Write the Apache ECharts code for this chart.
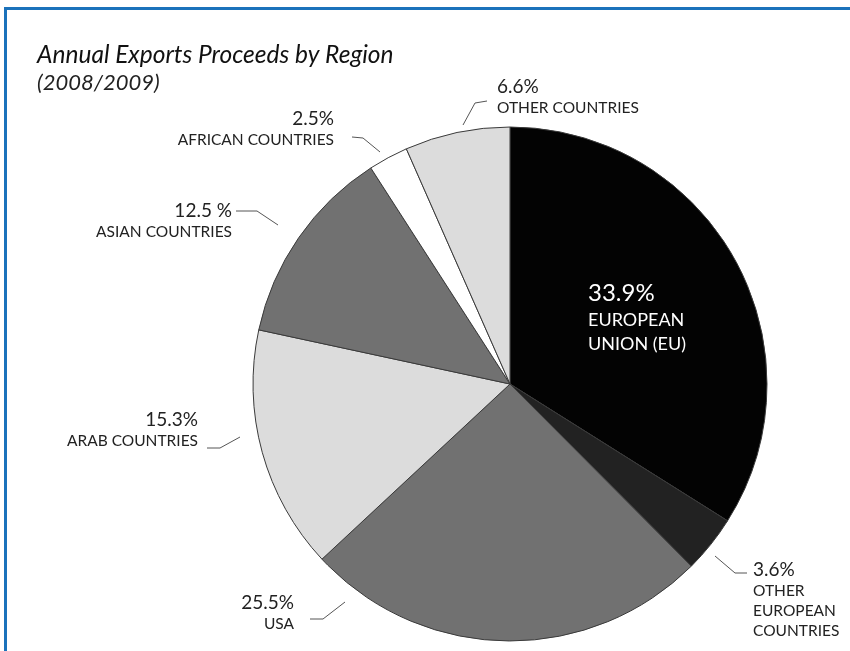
<!DOCTYPE html>
<html>
<head>
<meta charset="utf-8">
<script src="https://cdn.jsdelivr.net/npm/echarts@6/dist/echarts.min.js"></script>
<style>
  html, body { margin: 0; padding: 0; background: #fff; }
  #chart { position: absolute; left: 0; top: 0; width: 850px; height: 651px; }
  #frame { position: absolute; left: 4px; top: 7px; width: 850px; height: 651px;
           border-top: 3px solid #1b72bb; border-left: 3px solid #1b72bb; pointer-events: none; }
</style>
</head>
<body>
<div id="chart"></div>
<div id="frame"></div>
<script>
// ---- data ----
const categories = ['EUROPEAN UNION (EU)', 'OTHER EUROPEAN COUNTRIES', 'USA', 'ARAB COUNTRIES',
                    'ASIAN COUNTRIES', 'AFRICAN COUNTRIES', 'OTHER COUNTRIES'];
const values = [33.9, 3.6, 25.5, 15.3, 12.5, 2.5, 6.6];
const pctLabels = ['33.9%', '3.6%', '25.5%', '15.3%', '12.5 %', '2.5%', '6.6%'];
const nameLabels = ['EUROPEAN\nUNION (EU)', 'OTHER\nEUROPEAN\nCOUNTRIES', 'USA', 'ARAB COUNTRIES',
                    'ASIAN COUNTRIES', 'AFRICAN COUNTRIES', 'OTHER COUNTRIES'];

// ---- styling / layout ----
const sliceColors = ['#030303', '#222222', '#717171', '#dcdcdc', '#717171', '#ffffff', '#dcdcdc'];
const labelPlace = [
  { x: 588, y: 278, align: 'left' },
  { x: 753, y: 558, align: 'left' },
  { x: 294, y: 591, align: 'right' },
  { x: 198, y: 408, align: 'right' },
  { x: 232, y: 199, align: 'right' },
  { x: 334, y: 107, align: 'right' },
  { x: 497, y: 75, align: 'left' }
];
const leaderPts = [
  null,
  [[715, 556], [735, 573], [747, 573]],
  [[345, 602], [323, 619], [310, 619]],
  [[240, 437], [220, 448], [207, 448]],
  [[278, 225], [257, 211], [236, 211]],
  [[380, 152], [363, 138], [352, 137]],
  [[463, 125], [475, 103], [487, 101]]
];

const FONT = 'Lato, "Open Sans", sans-serif';
const chart = echarts.init(document.getElementById('chart'), null, { renderer: 'canvas' });

const seriesData = values.map((v, i) => {
  const inner = i === 0;
  return {
    name: categories[i],
    value: v,
    itemStyle: { color: sliceColors[i] },
    label: {
      formatter: (inner ? '{pi|' : '{p|') + pctLabels[i] + '}\n' +
        nameLabels[i].split('\n').map(s => (inner ? '{ni|' : '{n|') + s + '}').join('\n'),
      align: labelPlace[i].align
    },
    labelLine: { show: !inner }
  };
});

chart.setOption({
  animation: false,
  title: {
    text: 'Annual Exports Proceeds by Region',
    subtext: '(2008/2009)',
    left: 32,
    top: 38,
    itemGap: 4,
    textStyle: { fontFamily: FONT, fontStyle: 'italic', fontWeight: 'normal', fontSize: 24.5, color: '#111' },
    subtextStyle: { fontFamily: FONT, fontStyle: 'italic', fontWeight: 'normal', fontSize: 22, color: '#222' }
  },
  series: [{
    type: 'pie',
    center: [510, 384],
    radius: 257,
    startAngle: 90,
    clockwise: true,
    avoidLabelOverlap: false,
    data: seriesData,
    itemStyle: { borderColor: '#3a3a3a', borderWidth: 1 },
    emphasis: { disabled: true },
    label: {
      show: true,
      position: 'outside',
      fontFamily: FONT,
      color: '#222',
      rich: {
        p: { fontFamily: FONT, fontSize: 19, lineHeight: 23, color: '#222' },
        n: { fontFamily: FONT, fontSize: 15.5, lineHeight: 20, color: '#222' },
        pi: { fontFamily: FONT, fontSize: 24, lineHeight: 30, color: '#fff' },
        ni: { fontFamily: FONT, fontSize: 18, lineHeight: 24, color: '#fff' }
      }
    },
    labelLine: { show: true, lineStyle: { color: '#555', width: 1 } },
    labelLayout: function (params) {
      const i = params.dataIndex;
      const o = { x: labelPlace[i].x, y: labelPlace[i].y, align: labelPlace[i].align, verticalAlign: 'top' };
      if (leaderPts[i]) o.labelLinePoints = leaderPts[i];
      return o;
    }
  }]
});
</script>
</body>
</html>
